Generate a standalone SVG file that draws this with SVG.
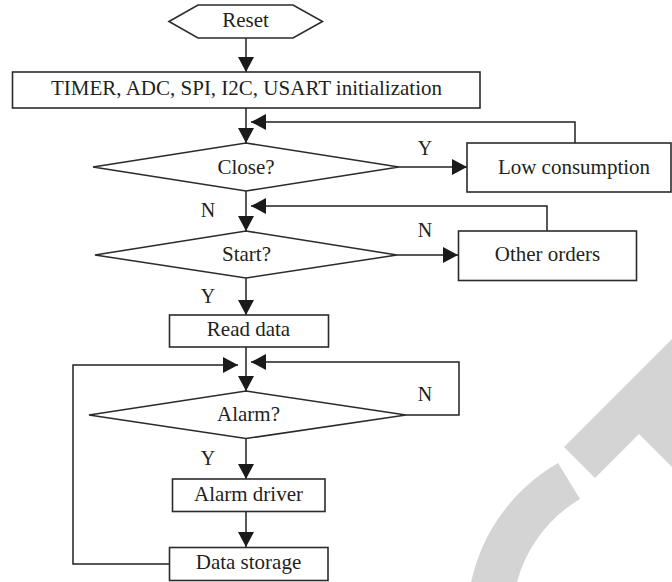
<svg xmlns="http://www.w3.org/2000/svg" width="672" height="582" viewBox="0 0 672 582">
<style>
.shape{fill:#fff;stroke:#2b2b2b;stroke-width:1.6}
.line{fill:none;stroke:#231f20;stroke-width:1.5}
.t{font-family:"Liberation Serif","Times New Roman",serif;font-size:21px;fill:#231f20;text-anchor:middle}
.lbl{font-family:"Liberation Serif","Times New Roman",serif;font-size:20px;fill:#231f20;text-anchor:middle}
.wm{fill:#d4d4d4}
</style>
<defs>
<marker id="ah" markerUnits="userSpaceOnUse" markerWidth="16" markerHeight="16" viewBox="0 0 15 16" refX="15" refY="8" orient="auto">
<path d="M0,0 L15,8 L0,16 Z" fill="#1a1a1a"/>
</marker>
</defs>
<g id="watermark">
<polygon class="wm" points="564,447 700,311 700,495 639,434 595,478"/>
<path class="wm" d="M558,463 A183,183 0 0 0 468,600 L513.5,600 A138,138 0 0 1 580,499 Z"/>
</g>
<g id="connectors">
<line class="line" x1="246" y1="38" x2="246" y2="72" marker-end="url(#ah)"/>
<line class="line" x1="246" y1="108" x2="246" y2="143" marker-end="url(#ah)"/>
<polyline class="line" points="575,143 575,122 251,122" marker-end="url(#ah)"/>
<line class="line" x1="399" y1="167" x2="467" y2="167" marker-end="url(#ah)"/>
<line class="line" x1="246" y1="191" x2="246" y2="231" marker-end="url(#ah)"/>
<polyline class="line" points="547,231 547,206 251,206" marker-end="url(#ah)"/>
<line class="line" x1="397" y1="255" x2="458" y2="255" marker-end="url(#ah)"/>
<line class="line" x1="246" y1="278" x2="246" y2="315" marker-end="url(#ah)"/>
<line class="line" x1="246" y1="347" x2="246" y2="391" marker-end="url(#ah)"/>
<polyline class="line" points="406,415 459,415 459,362 251,362" marker-end="url(#ah)"/>
<line class="line" x1="246" y1="438" x2="246" y2="479" marker-end="url(#ah)"/>
<line class="line" x1="246" y1="511" x2="246" y2="547" marker-end="url(#ah)"/>
<polyline class="line" points="169,564 73,564 73,365 238,365" marker-end="url(#ah)"/>
<text class="lbl" x="425" y="155">Y</text>
<text class="lbl" x="208" y="217">N</text>
<text class="lbl" x="425" y="237">N</text>
<text class="lbl" x="208" y="303">Y</text>
<text class="lbl" x="425" y="401">N</text>
<text class="lbl" x="208" y="465">Y</text>
</g>
<g id="reset">
<polygon class="shape" points="169,21.5 198,5 293,5 322.5,21.5 293,38 198,38"/>
<text class="t" x="245.5" y="27">Reset</text>
</g>
<g id="init">
<rect class="shape" x="12.5" y="72" width="467.5" height="36"/>
<text class="t" x="246.5" y="95">TIMER, ADC, SPI, I2C, USART initialization</text>
</g>
<g id="close">
<polygon class="shape" points="246,143 399,167 246,191 93,167"/>
<text class="t" x="246" y="174">Close?</text>
</g>
<g id="low">
<rect class="shape" x="467" y="143" width="204" height="49"/>
<text class="t" x="574" y="173.5">Low consumption</text>
</g>
<g id="start">
<polygon class="shape" points="246,231 397,255 246,278 95,255"/>
<text class="t" x="246.5" y="260.5">Start?</text>
</g>
<g id="other">
<rect class="shape" x="458.5" y="231" width="178" height="49.5"/>
<text class="t" x="547.5" y="260.5">Other orders</text>
</g>
<g id="read">
<rect class="shape" x="169.5" y="315" width="159" height="32"/>
<text class="t" x="248.5" y="335.5">Read data</text>
</g>
<g id="alarm">
<polygon class="shape" points="246,391 406,415 246,438.5 89,415"/>
<text class="t" x="248.5" y="420.5">Alarm?</text>
</g>
<g id="driver">
<rect class="shape" x="172.5" y="479" width="152.5" height="32.5"/>
<text class="t" x="248.5" y="500.5">Alarm driver</text>
</g>
<g id="storage">
<rect class="shape" x="169.5" y="547.5" width="158.5" height="33"/>
<text class="t" x="248.5" y="569">Data storage</text>
</g>
</svg>
